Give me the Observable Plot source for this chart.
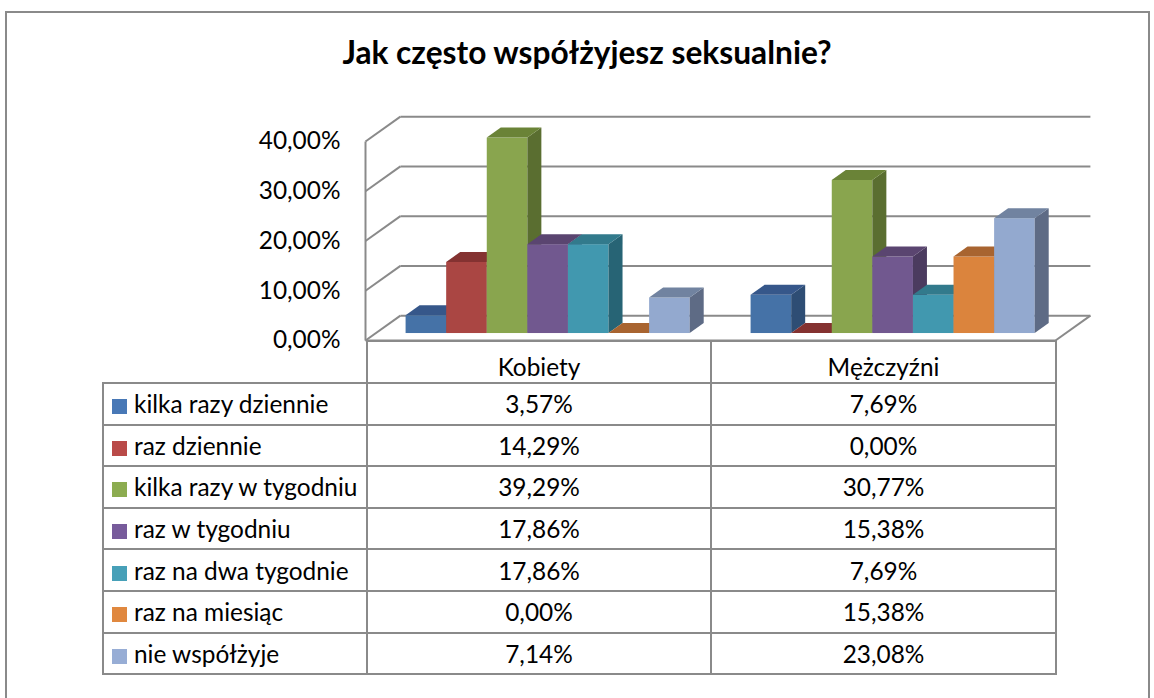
<!DOCTYPE html>
<html><head><meta charset="utf-8">
<script src="https://cdn.jsdelivr.net/npm/d3@7"></script>
<script src="https://cdn.jsdelivr.net/npm/@observablehq/plot@0.6"></script>
<style>
body{margin:0;background:#fff;}
#page{position:relative;width:1154px;height:698px;overflow:hidden;font-family:Lato,"Open Sans",sans-serif;color:#000;}
#frame{position:absolute;left:5px;top:11px;width:1141px;height:760px;border:2px solid #8a8a8a;}
#title{position:absolute;left:10px;width:1154px;text-align:center;font-weight:700;white-space:nowrap;}
#tbl{position:absolute;left:102px;top:340px;border-collapse:collapse;table-layout:fixed;}
#tbl td{border:2px solid #8a8a8a;padding:0;white-space:nowrap;}
#tbl td.v{text-align:center;}
#tbl td.h{text-align:center;padding-top:8px;}
#tbl td.blank{border-top:none;border-left:none;}
.key{display:inline-block;width:15px;height:15px;margin-left:8px;margin-right:7px;vertical-align:-1px;}
#chart{position:absolute;left:0;top:0;pointer-events:none;}
</style>
</head><body>
<div id="page">
  <div id="frame"></div>
  <div id="title"></div>
  <table id="tbl"></table>
  <div id="chart"></div>
</div>
<script>
// ---- data ----
const title = "Jak często współżyjesz seksualnie?";
const categories = ["Kobiety", "Mężczyźni"];
const series = ["kilka razy dziennie", "raz dziennie", "kilka razy w tygodniu", "raz w tygodniu", "raz na dwa tygodnie", "raz na miesiąc", "nie współżyje"];
const kobiety = [3.57, 14.29, 39.29, 17.86, 17.86, 0.00, 7.14];
const mezczyzni = [7.69, 0.00, 30.77, 15.38, 7.69, 15.38, 23.08];
const yTicks = [0, 10, 20, 30, 40];
const keyColors = ["#4878B6", "#B94A48", "#8CAC50", "#775B9B", "#47A0B8", "#E0883F", "#97ADD5"];
const frontColors = ["#4572A7", "#AA4643", "#89A54E", "#71588F", "#4198AF", "#DB843D", "#93A9CF"];
const topColors = ["#36578A", "#843231", "#6A8337", "#5A4570", "#327A8C", "#A86430", "#7183A0"];
const sideColors = ["#2E4D74", "#752F2E", "#5A6E30", "#4B3B5F", "#276475", "#93582A", "#5E6B85"];

const values = [kobiety, mezczyzni];
const FAM = "Lato";
const fmt = v => v.toFixed(2).replace(".", ",") + "%";

function fit(text, weight, target) {
  const c = document.createElement("canvas").getContext("2d");
  c.font = `${weight} 100px ${FAM}`;
  return 100 * target / c.measureText(text).width;
}
const fs = fit("kilka razy dziennie", 400, 195);
const tfs = fit(title, 700, 490);

// title
const t = document.getElementById("title");
t.textContent = title;
t.style.fontSize = tfs + "px";
t.style.lineHeight = tfs + "px";
t.style.top = (65 - 0.887 * tfs) + "px";

// table
const tbl = document.getElementById("tbl");
tbl.style.fontSize = fs + "px";
const colW = [264, 344, 345];
const cg = document.createElement("colgroup");
colW.forEach(w => { const c = document.createElement("col"); c.style.width = w + "px"; cg.appendChild(c); });
tbl.appendChild(cg);
const hr = document.createElement("tr");
hr.style.height = "42px";
const blank = document.createElement("td"); blank.className = "blank"; hr.appendChild(blank);
categories.forEach(c => { const td = document.createElement("td"); td.className = "h"; td.textContent = c; hr.appendChild(td); });
tbl.appendChild(hr);
series.forEach((s, i) => {
  const tr = document.createElement("tr");
  tr.style.height = "41.6px";
  const td0 = document.createElement("td");
  const k = document.createElement("span"); k.className = "key"; k.style.background = keyColors[i];
  td0.appendChild(k); td0.appendChild(document.createTextNode(s));
  tr.appendChild(td0);
  values.forEach(vals => { const td = document.createElement("td"); td.className = "v"; td.textContent = fmt(vals[i]); tr.appendChild(td); });
  tbl.appendChild(tr);
});

// ---- 3D chart geometry (in scale units) ----
const nS = series.length;
const catSpan = nS + 1.5;          // bars + gap width
const gapHalf = 0.75;
const barShiftX = 0.25, barBase = 1.4;   // bars stand a little behind the front edge of the floor
const barDX = 0.345, barDY = 2.0;        // bar depth
const wallDX = 0.86, wallDY = 5.0;       // floor/wall depth
const xMax = categories.length * catSpan;
const grid = "#8a8a8a";

const bars = [];
categories.forEach((c, ci) => values[ci].forEach((v, si) => {
  const x1 = ci * catSpan + gapHalf + barShiftX + si;
  bars.push({x1, x2: x1 + 1, y1: barBase, y2: barBase + v, si});
}));

const barMarks = bars.flatMap(b => [
  Plot.rect([b], {x1: "x1", x2: "x2", y1: "y1", y2: "y2", fill: frontColors[b.si]}),
  Plot.areaY([
    {x: b.x2, y1: b.y1, y2: b.y2},
    {x: b.x2 + barDX, y1: b.y1 + barDY, y2: b.y2 + barDY}
  ], {x: "x", y1: "y1", y2: "y2", fill: sideColors[b.si], curve: "linear"}),
  Plot.areaY([
    {x: b.x1, y1: b.y2, y2: b.y2},
    {x: b.x1 + barDX, y1: b.y2, y2: b.y2 + barDY},
    {x: b.x2, y1: b.y2, y2: b.y2 + barDY},
    {x: b.x2 + barDX, y1: b.y2 + barDY, y2: b.y2 + barDY}
  ], {x: "x", y1: "y1", y2: "y2", fill: topColors[b.si], curve: "linear"})
]);

const chart = Plot.plot({
  width: 1154, height: 698,
  marginLeft: 365, marginRight: 99, marginTop: 141, marginBottom: 358,
  x: {domain: [0, xMax], axis: null},
  y: {domain: [0, 40], axis: null},
  style: {background: "transparent", overflow: "visible", fontFamily: FAM, fontSize: fs + "px", color: "#000"},
  marks: [
    Plot.link(yTicks, {x1: () => 0, y1: d => d, x2: () => wallDX, y2: d => d + wallDY, stroke: grid, strokeWidth: 2}),
    Plot.link(yTicks, {x1: () => wallDX, y1: d => d + wallDY, x2: () => xMax + wallDX, y2: d => d + wallDY, stroke: grid, strokeWidth: 2}),
    Plot.link([0], {x1: () => 0, y1: () => 0, x2: () => 0, y2: () => yTicks[yTicks.length - 1], stroke: grid, strokeWidth: 2}),
    Plot.link([0], {x1: () => 0, y1: () => 0, x2: () => xMax, y2: () => 0, stroke: grid, strokeWidth: 2}),
    Plot.link([0], {x1: () => xMax, y1: () => 0, x2: () => xMax + wallDX, y2: () => wallDY, stroke: grid, strokeWidth: 2}),
    Plot.axisY(yTicks, {tickSize: 0, tickPadding: 25, tickFormat: fmt, label: null, fontSize: fs, fill: "#000"}),
    ...barMarks
  ]
});
document.getElementById("chart").appendChild(chart);
</script>
</body></html>
